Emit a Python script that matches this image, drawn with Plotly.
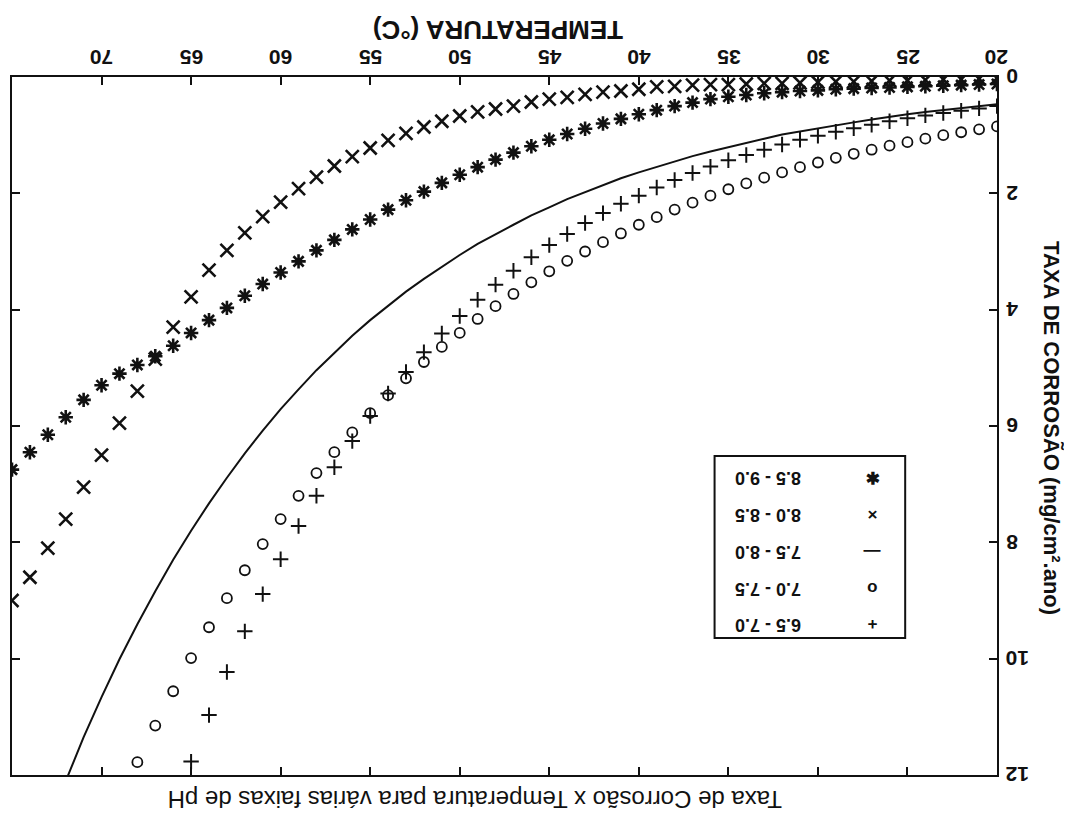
import plotly.graph_objects as go

# ---- data (temperature in °C, corrosion rate in mg/cm².ano) ----
temps = list(range(20, 76))

# pH 8.0 - 8.5  (x markers)
rate_ph_80_85 = [0.02, 0.03, 0.04, 0.04, 0.05, 0.06, 0.06, 0.07, 0.08, 0.08,
                 0.09, 0.10, 0.11, 0.11, 0.12, 0.13, 0.13, 0.14, 0.16, 0.17,
                 0.21, 0.24, 0.26, 0.30, 0.35, 0.38, 0.43, 0.50, 0.55, 0.60,
                 0.67, 0.76, 0.86, 0.97, 1.09, 1.22, 1.37, 1.53, 1.72, 1.92,
                 2.15, 2.40, 2.68, 2.98, 3.32, 3.78, 4.30, 4.85, 5.40, 5.95,
                 6.50, 7.05, 7.60, 8.10, 8.60, 9.00]

# pH 8.5 - 9.0  (asterisks)
rate_ph_85_90 = [0.12, 0.13, 0.14, 0.15, 0.16, 0.17, 0.18, 0.19, 0.20, 0.21,
                 0.23, 0.24, 0.26, 0.28, 0.31, 0.34, 0.38, 0.44, 0.50, 0.57,
                 0.64, 0.72, 0.80, 0.89, 0.98, 1.08, 1.19, 1.30, 1.42, 1.55,
                 1.68, 1.82, 1.97, 2.12, 2.28, 2.45, 2.62, 2.80, 2.98, 3.17,
                 3.36, 3.56, 3.76, 3.97, 4.18, 4.40, 4.62, 4.80, 4.95, 5.10,
                 5.30, 5.55, 5.85, 6.15, 6.45, 6.75]

# pH 7.5 - 8.0  (solid line)
rate_ph_75_80 = [0.47, 0.50, 0.53, 0.57, 0.60, 0.64, 0.68, 0.73, 0.78, 0.83,
                 0.88, 0.93, 0.99, 1.06, 1.13, 1.20, 1.28, 1.36, 1.45, 1.54,
                 1.64, 1.74, 1.86, 1.98, 2.10, 2.24, 2.38, 2.54, 2.70, 2.87,
                 3.06, 3.26, 3.47, 3.69, 3.93, 4.18, 4.45, 4.74, 5.04, 5.37,
                 5.71, 6.08, 6.47, 6.89, 7.33, 7.80, 8.30, 8.84, 9.41, 10.01,
                 10.66, 11.35, 12.08, 12.86]

# pH 7.0 - 7.5  (open circles)
rate_ph_70_75 = [0.85, 0.90, 0.95, 1.00, 1.06, 1.12, 1.18, 1.25, 1.32, 1.39,
                 1.47, 1.55, 1.64, 1.73, 1.83, 1.93, 2.04, 2.16, 2.28, 2.41,
                 2.54, 2.69, 2.84, 3.00, 3.16, 3.34, 3.53, 3.73, 3.94, 4.16,
                 4.40, 4.64, 4.90, 5.18, 5.47, 5.78, 6.11, 6.45, 6.81, 7.20,
                 7.60, 8.03, 8.48, 8.96, 9.46, 9.99, 10.56, 11.15, 11.78, 12.44]

# pH 6.5 - 7.0  (plus markers)
rate_ph_65_70 = [0.50, 0.54, 0.58, 0.62, 0.66, 0.71, 0.76, 0.82, 0.88, 0.94,
                 1.01, 1.08, 1.16, 1.25, 1.34, 1.43, 1.54, 1.65, 1.77, 1.90,
                 2.04, 2.18, 2.34, 2.51, 2.70, 2.89, 3.10, 3.33, 3.57, 3.83,
                 4.11, 4.41, 4.73, 5.07, 5.44, 5.83, 6.26, 6.71, 7.20, 7.72,
                 8.29, 8.89, 9.53, 10.23, 10.97, 11.77, 12.62]

x_ticks = [20, 25, 30, 35, 40, 45, 50, 55, 60, 65, 70]
y_ticks = [0, 2, 4, 6, 8, 10, 12]

legend_labels = ["8.5 - 9.0", "8.0 - 8.5", "7.5 - 8.0", "7.0 - 7.5", "6.5 - 7.0"]
legend_symbols = ["\u2731", "\u00d7", "\u2014", "o", "+"]

title_text = "Taxa de Corrosão x Temperatura para várias faixas de pH"
x_title = "TEMPERATURA (°C)"
y_title = "TAXA DE CORROSÃO (mg/cm².ano)"

FONT = "Liberation Sans, Arial, sans-serif"
INK = "#111111"

# page geometry (the browser adds an 8px body margin)
OFF = 8
W, H = 1072 - OFF, 821 - OFF
PL, PR, PT, PB = 10, 997, 77, 775   # plot area in window pixels


def px2paper(px, py):
    return (px - PL) / (PR - PL), (PB - py) / (PB - PT)


def series_x(values):
    return temps[:len(values)]


fig = go.Figure()
fig.add_trace(go.Scatter(x=series_x(rate_ph_65_70), y=rate_ph_65_70, mode="markers", name="6.5 - 7.0",
                         marker=dict(symbol="cross-thin", size=11, line=dict(color=INK, width=2))))
fig.add_trace(go.Scatter(x=series_x(rate_ph_70_75), y=rate_ph_70_75, mode="markers", name="7.0 - 7.5",
                         marker=dict(symbol="circle-open", size=10, color=INK, line=dict(width=1.8))))
fig.add_trace(go.Scatter(x=series_x(rate_ph_75_80), y=rate_ph_75_80, mode="lines", name="7.5 - 8.0",
                         line=dict(color=INK, width=2)))
fig.add_trace(go.Scatter(x=series_x(rate_ph_80_85), y=rate_ph_80_85, mode="markers", name="8.0 - 8.5",
                         marker=dict(symbol="x-thin", size=13, line=dict(color=INK, width=2.6))))
fig.add_trace(go.Scatter(x=series_x(rate_ph_85_90), y=rate_ph_85_90, mode="markers", name="8.5 - 9.0",
                         marker=dict(symbol="asterisk", size=12, line=dict(color=INK, width=2.6))))

fig.update_xaxes(range=[75, 20], side="top", tickvals=x_ticks, showticklabels=False,
                 ticks="inside", ticklen=8, tickwidth=2, tickcolor=INK,
                 showline=True, linecolor=INK, linewidth=2, mirror="ticks",
                 showgrid=False, zeroline=False)
fig.update_yaxes(range=[12, 0], side="right", tickvals=y_ticks, showticklabels=False,
                 ticks="inside", ticklen=8, tickwidth=2, tickcolor=INK,
                 showline=True, linecolor=INK, linewidth=2, mirror="ticks",
                 showgrid=False, zeroline=False)

ann = []
# tick labels, drawn upside-down like the scanned reference
for t in x_ticks:
    ann.append(dict(text="<b>%d</b>" % t, x=t, xref="x", y=1.0, yref="paper",
                    xanchor="center", yanchor="middle", yshift=19, textangle=180,
                    showarrow=False, font=dict(family=FONT, size=21, color=INK)))
for v in y_ticks:
    ann.append(dict(text="<b>%d</b>" % v, x=1.0, xref="paper", y=v, yref="y",
                    xanchor="left", yanchor="middle", xshift=7, textangle=180,
                    showarrow=False, font=dict(family=FONT, size=21, color=INK)))

tx, ty = px2paper(497, 30)
ann.append(dict(text="<b>" + x_title + "</b>", x=tx, y=ty, xref="paper", yref="paper",
                xanchor="center", yanchor="middle", textangle=180, showarrow=False,
                font=dict(family=FONT, size=26, color=INK)))
tx, ty = px2paper(1052, 428)
ann.append(dict(text="<b>" + y_title + "</b>", x=tx, y=ty, xref="paper", yref="paper",
                xanchor="center", yanchor="middle", textangle=90, showarrow=False,
                font=dict(family=FONT, size=22, color=INK)))
tx, ty = px2paper(474, 800)
ann.append(dict(text=title_text, x=tx, y=ty, xref="paper", yref="paper",
                xanchor="center", yanchor="middle", textangle=180, showarrow=False,
                font=dict(family=FONT, size=24, color=INK)))

# custom legend (drawn upside-down like the reference)
box_x0, box_y0 = px2paper(714, 456)
box_x1, box_y1 = px2paper(905, 638)
row_y = [478, 515, 552, 589, 625]
for lab, sym, ry in zip(legend_labels, legend_symbols, row_y):
    tx, ty = px2paper(733, ry)
    sx, sy = px2paper(872, ry)
    ann.append(dict(text="<b>" + lab + "</b>", x=tx, y=ty, xref="paper", yref="paper",
                    xanchor="left", yanchor="middle", textangle=180, showarrow=False,
                    font=dict(family=FONT, size=18, color=INK)))
    ann.append(dict(text="<b>" + sym + "</b>", x=sx, y=sy, xref="paper", yref="paper",
                    xanchor="center", yanchor="middle", textangle=180, showarrow=False,
                    font=dict(family=FONT, size=17, color=INK)))

fig.update_layout(
    width=W, height=H,
    margin=dict(l=PL - OFF, r=1072 - PR, t=PT - OFF, b=821 - PB),
    paper_bgcolor="white", plot_bgcolor="white",
    showlegend=False,
    annotations=ann,
    shapes=[dict(type="rect", xref="paper", yref="paper",
                 x0=box_x0, x1=box_x1, y0=box_y0, y1=box_y1,
                 line=dict(color=INK, width=2))],
)

fig.write_html("out.html")
